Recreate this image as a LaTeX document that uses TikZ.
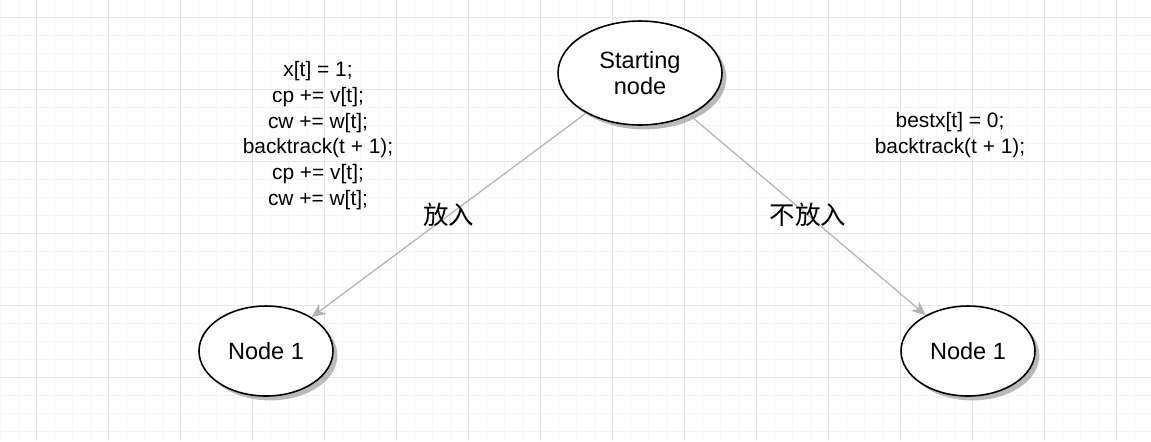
\documentclass[tikz,border=0pt]{standalone}
\usepackage{fontspec}
\setmainfont{Liberation Sans}
\newfontfamily\cjk{Noto Sans CJK SC}
\usetikzlibrary{shapes.geometric,shadows,arrows.meta}
\definecolor{gridminor}{HTML}{F6F6F6}
\definecolor{gridmajor}{HTML}{E6E6E6}
\definecolor{edgegray}{HTML}{B3B3B3}
\begin{document}
\begin{tikzpicture}[x=0.02cm, y=-0.02cm,
    state/.style={ellipse, draw, line width=0.9pt, fill=white, align=center,
        font=\fontsize{13.4}{14.7}\selectfont,
        drop shadow={shadow xshift=2.5pt, shadow yshift=-2.5pt, fill=black!45, opacity=0.6}},
    code/.style={align=center, font=\fontsize{11.9}{14.6}\selectfont},
    branch/.style={draw=edgegray, line width=0.7pt, -{Stealth[length=8pt, width=7pt, inset=2.5pt]}},
    choice/.style={font=\cjk\fontsize{14.5}{16}\selectfont}]
    \useasboundingbox (0,0) rectangle (1151,441);
    % grid
    \foreach \x in {0,18,...,1150} \draw[gridminor, line width=0.5pt] (\x,0) -- (\x,441);
    \foreach \y in {-1,17,...,441} \draw[gridminor, line width=0.5pt] (0,\y) -- (1151,\y);
    \foreach \x in {36,108,...,1150} \draw[gridmajor, line width=0.5pt] (\x,0) -- (\x,441);
    \foreach \y in {17,89,...,441} \draw[gridmajor, line width=0.5pt] (0,\y) -- (1151,\y);
    % states
    \node[state, minimum width=3.28cm, minimum height=2.08cm] (start) at (640,73) {Starting\\node};
    \node[state, minimum width=2.68cm, minimum height=1.8cm] (put) at (266,351) {Node 1};
    \node[state, minimum width=2.68cm, minimum height=1.8cm] (skip) at (968,351) {Node 1};
    % branches
    \draw[branch] (start) -- node[choice] {放入} (put);
    \draw[branch] (start) -- node[choice] {不放入} (skip);
    % code
    \node[code] (putcode) at (318,135.5) {x[t] = 1;\\cp += v[t];\\cw += w[t];\\backtrack(t + 1);\\cp += v[t];\\cw += w[t];};
    \node[code] (skipcode) at (950,135) {bestx[t] = 0;\\backtrack(t + 1);};
\end{tikzpicture}
\end{document}
